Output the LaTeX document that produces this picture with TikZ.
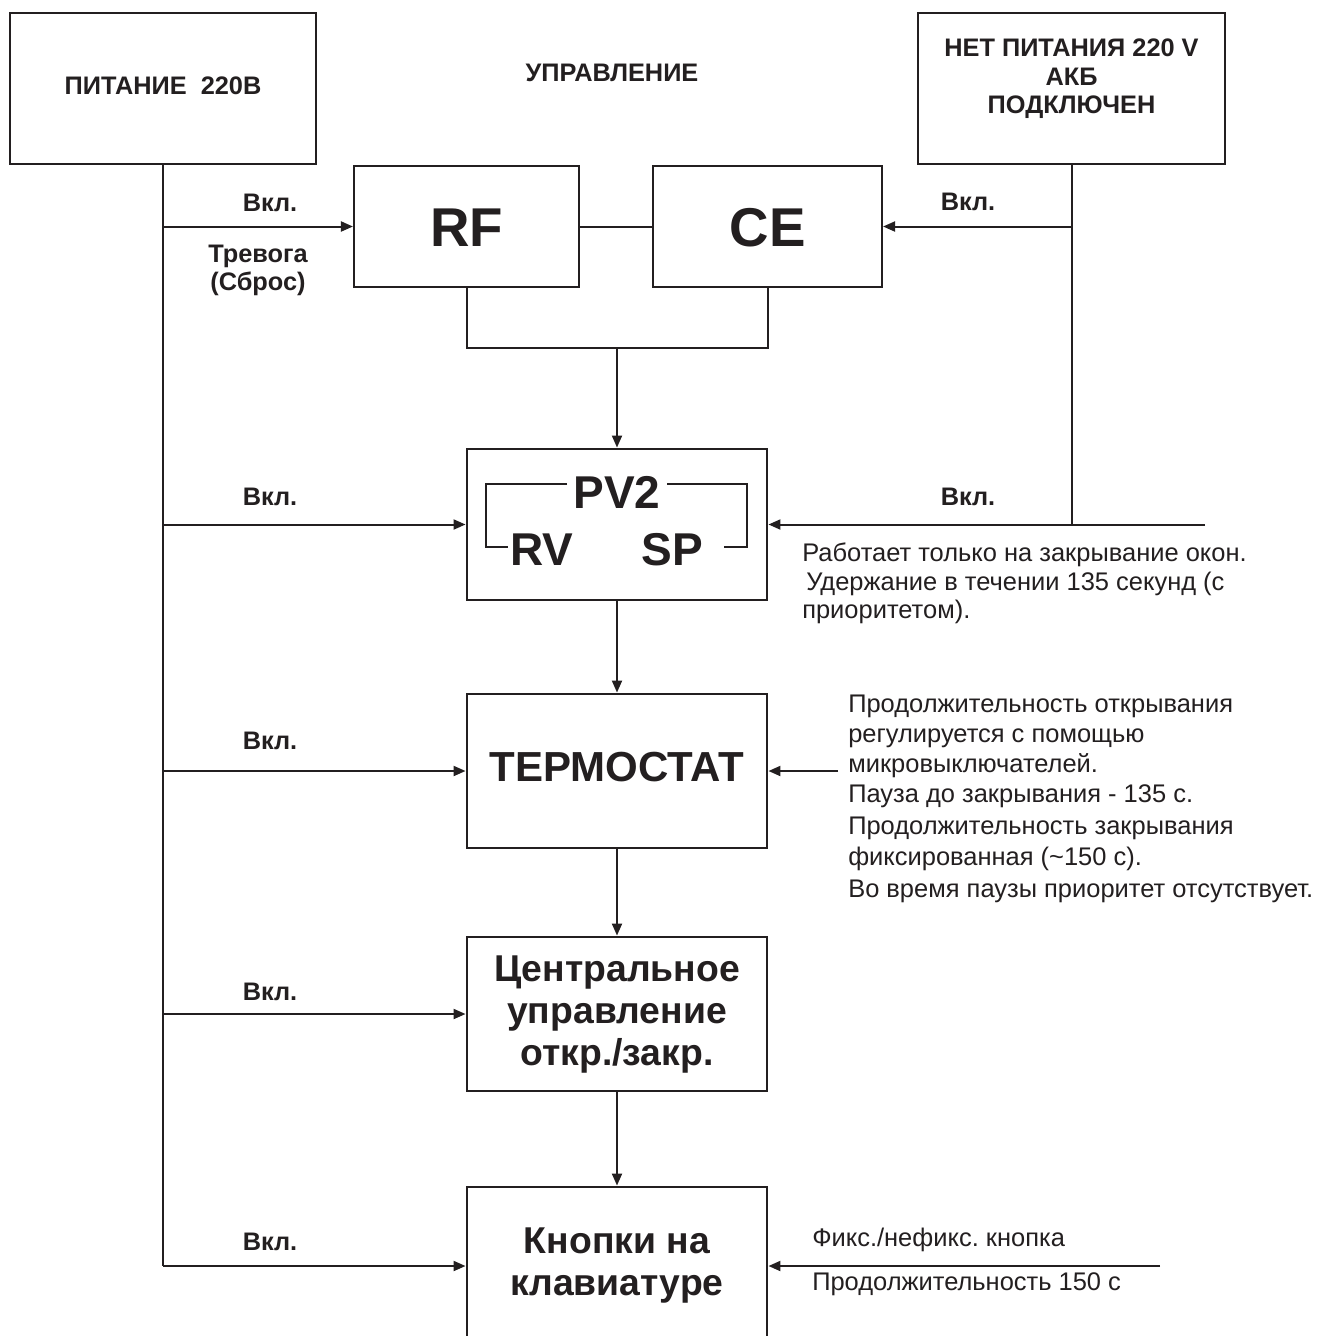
\documentclass[tikz,border=0pt]{standalone}
\usepackage{fontspec}
\setmainfont{Liberation Sans}
\usetikzlibrary{arrows.meta}
\definecolor{ink}{RGB}{35,31,32}
\frenchspacing
\begin{document}
\begin{tikzpicture}[x=0.75pt,y=-0.75pt,
  box/.style={draw=ink, line width=1.9pt, inner sep=0pt, fill=none},
  ln/.style={draw=ink, line width=1.5pt},
  arr/.style={draw=ink, line width=1.5pt, -{Triangle[length=9pt,width=7.5pt]}},
  lbl/.style={inner sep=0pt, text=ink, font=\bfseries\fontsize{19}{21}\selectfont, align=center},
  big/.style={inner sep=0pt, text=ink, font=\bfseries\fontsize{41}{44}\selectfont},
  mid/.style={inner sep=0pt, text=ink, font=\bfseries\fontsize{34.5}{38}\selectfont},
  blk/.style={inner sep=0pt, text=ink, font=\bfseries\fontsize{28}{31.5}\selectfont, align=center},
  note/.style={inner sep=0pt, anchor=base west, text=ink, font=\fontsize{19.1}{22}\selectfont}
]
\clip (0,0) rectangle (1321,1336);
\fill[white] (0,0) rectangle (1321,1336);

% boxes
\node[box, minimum width=229.5pt, minimum height=113.25pt] (pit) at (163,88.5) {};
\node[lbl] (pitt) at (163,86) {ПИТАНИЕ\ \ 220В};
\node[lbl] (upr) at (612,73) {УПРАВЛЕНИЕ};
\node[box, minimum width=230.25pt, minimum height=113.25pt] (net) at (1071.5,88.5) {};
\node[lbl, font=\bfseries\fontsize{19}{21.5}\selectfont] (nett) at (1071.5,79) {НЕТ ПИТАНИЯ 220 V\\АКБ\\ПОДКЛЮЧЕН};

\node[box, line width=1.6pt, minimum width=168.75pt, minimum height=90.75pt] (rf) at (466.5,226.5) {};
\node[big] (rft) at (466.5,228) {RF};
\node[box, line width=1.6pt, minimum width=171.75pt, minimum height=90.75pt] (ce) at (767.5,226.5) {};
\node[big] (cet) at (767.5,228) {CE};

\node[box, line width=2.2pt, minimum width=225pt, minimum height=113.25pt] (pv) at (617,524.5) {};
\node[mid] (pvt) at (617,492) {PV2};
\node[mid] (rvt) at (542,550) {RV};
\node[mid] (spt) at (672,550) {SP};

\node[box, line width=2.2pt, minimum width=225pt, minimum height=115.5pt] (th) at (617,771) {};
\node[inner sep=0pt, text=ink, font=\bfseries\fontsize{31.5}{36}\selectfont] (tht) at (617,767) {ТЕРМОСТАТ};

\node[box, line width=2.2pt, minimum width=225pt, minimum height=115.5pt] (cu) at (617,1014) {};
\node[blk] (cut) at (617,1015) {Центральное\\управление\\откр./закр.};

\node[box, line width=2.2pt, minimum width=225pt, minimum height=118.5pt] (kn) at (617,1266) {};
\node[blk] (knt) at (617,1266) {Кнопки на\\клавиатуре};

% PV2 inner bracket
\draw[ln, line width=1.2pt] (567,484) -- (486,484) -- (486,547) -- (508,547);
\draw[ln, line width=1.2pt] (667,484) -- (747,484) -- (747,547) -- (724,547);

% left trunk
\coordinate (lend) at (pit.south |- kn.west);
\draw[ln] (pit.south) -- (lend);
\draw[arr] (pit.south |- rf.west) -- (rf.west);
\draw[arr] (pit.south |- pv.west) -- (pv.west);
\draw[arr] (pit.south |- th.west) -- (th.west);
\draw[arr] (pit.south |- cu.west) -- (cu.west);
\draw[arr] (lend) -- (kn.west);

% right side
\coordinate (rend) at (1205,524.5);
\draw[ln] (net.south) -- (net.south |- pv.east);
\draw[arr] (net.south |- ce.east) -- (ce.east);
\draw[arr] (rend) -- (pv.east);
\coordinate (thin) at (838,771);
\draw[arr] (thin) -- (th.east);
\coordinate (knin) at (1160,1266);
\draw[arr] (knin) -- (kn.east);

% RF - CE link and join
\draw[ln] (rf.east) -- (ce.west);
\coordinate (bj) at (617,348);
\draw[ln] (rf.south) |- (bj) -| (ce.south);
\draw[arr] (bj) -- (pv.north);
\draw[arr] (pv.south) -- (th.north);
\draw[arr] (th.south) -- (cu.north);
\draw[arr] (cu.south) -- (kn.north);

% labels
\node[lbl] (v1) at (270,203) {Вкл.};
\node[lbl] (tr) at (258,270) {Тревога\\(Сброс)};
\node[lbl] (v2) at (270,497) {Вкл.};
\node[lbl] (v3) at (270,741) {Вкл.};
\node[lbl] (v4) at (270,992) {Вкл.};
\node[lbl] (v5) at (270,1242) {Вкл.};
\node[lbl] (v6) at (968,202) {Вкл.};
\node[lbl] (v7) at (968,497) {Вкл.};

% notes
\begin{scope}[every node/.append style={font=\fontsize{20.8}{22}\selectfont}]
\node[note] (n1) at (802,561) {Работает только на закрывание окон.};
\node[note] (n2) at (806,590) {Удержание в течении 135 секунд (с};
\node[note] (n3) at (802,618) {приоритетом).};
\end{scope}

\node[note] (t1) at (848,712) {Продолжительность открывания};
\node[note] (t2) at (848,742) {регулируется с помощью};
\node[note] (t3) at (848,772) {микровыключателей.};
\node[note] (t4) at (848,802) {Пауза до закрывания - 135 с.};
\node[note] (t5) at (848,834) {Продолжительность закрывания};
\node[note] (t6) at (848,865) {фиксированная (\textasciitilde150 с).};
\node[note] (t7) at (848,897) {Во время паузы приоритет отсутствует.};

\begin{scope}[every node/.append style={font=\fontsize{20.5}{22}\selectfont}]
\node[note] (k1) at (812,1246) {Фикс./нефикс. кнопка};
\node[note] (k2) at (812,1290) {Продолжительность 150 с};
\end{scope}
\end{tikzpicture}
\end{document}
